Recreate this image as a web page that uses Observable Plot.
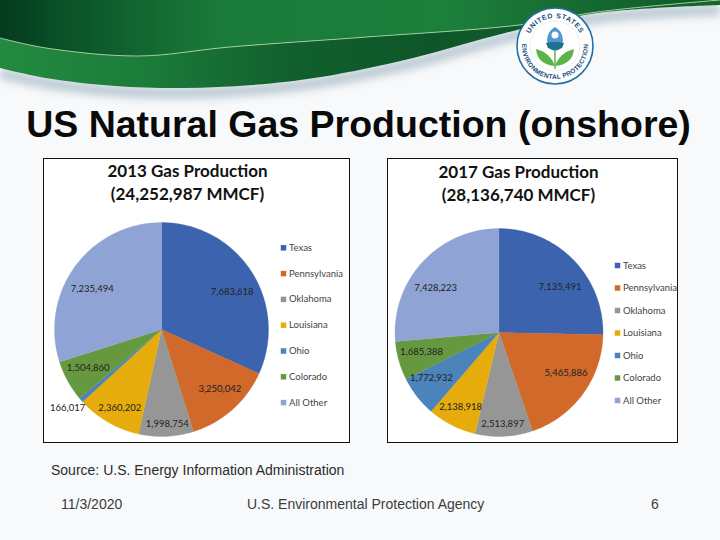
<!DOCTYPE html>
<html>
<head>
<meta charset="utf-8">
<script src="https://cdn.jsdelivr.net/npm/d3@7"></script>
<script src="https://cdn.jsdelivr.net/npm/@observablehq/plot@0.6"></script>
<style>
html,body{margin:0;padding:0;background:#f7f9fa;}
#slide{position:relative;width:720px;height:540px;overflow:hidden;background:#f7f9fa;font-family:"Liberation Sans",Arial,sans-serif;color:#222;}
#slide>*{position:absolute;}
#slide svg{display:block;}
.chart{border:1px solid #111;background:#fff;box-sizing:content-box;}
#title{left:0;width:717px;top:101px;text-align:center;font-size:37.5px;font-weight:bold;color:#0a0a0a;line-height:46px;white-space:nowrap;}
.note{font-size:14px;line-height:16px;color:#2c2c2c;white-space:nowrap;}
.foot{font-size:14px;line-height:16px;color:#3c3c3c;white-space:nowrap;}
</style>
</head>
<body>
<div id="slide">
  <div id="banner"></div>
  <div id="title">US Natural Gas Production (onshore)</div>
  <div id="c1" class="chart" style="left:43px;top:158px"></div>
  <div id="c2" class="chart" style="left:387px;top:158px"></div>
  <div class="note" style="left:51px;top:462px">Source: U.S. Energy Information Administration</div>
  <div class="foot" style="left:61px;top:496px">11/3/2020</div>
  <div class="foot" style="left:247px;top:496px">U.S. Environmental Protection Agency</div>
  <div class="foot" style="left:651px;top:496px">6</div>
</div>
<script>
// ---- data ----
const states = ["Texas","Pennsylvania","Oklahoma","Louisiana","Ohio","Colorado","All Other"];
const colors = ["#3c64ae","#d0692a","#969696","#e6ac0c","#4b83bb","#66993f","#8fa3d4"];
const values2013 = [7683618,3250042,1998754,2360202,166017,1504860,7235494];
const values2017 = [7135491,5465886,2513897,2138918,1772932,1685388,7428223];
const titles2013 = ["2013 Gas Production","(24,252,987 MMCF)"];
const titles2017 = ["2017 Gas Production","(28,136,740 MMCF)"];
// label placement: fraction of the radius, and degrees away from the slice's middle
const labelRadius2013 = [.749,.776,.880,.832,1.146,.773,.752];
const labelShift2013  = [4.7,-3.1,-1,-2,1.2,1.3,-5.6];
const labelRadius2017 = [.731,.750,.882,.806,.784,.769,.745];
const labelShift2017  = [7.7,-5.4,.4,.2,3.9,1.6,-7.3];

const FONT = "Lato, 'Open Sans', sans-serif";

function pieChart(o){
  const {values,titles,labelRadius,labelShift,w,h,cx,cy,r,legendX,legendY,legendStep,titleX,titleY} = o;
  const total = d3.sum(values);
  const xy = (deg,rad)=>[cx+rad*Math.sin(deg*Math.PI/180), cy-rad*Math.cos(deg*Math.PI/180)];
  const wedges=[], labels=[], legend=[];
  let start=0;
  values.forEach((v,i)=>{
    const sweep=v/total*360, end=start+sweep;
    const pts=[{state:states[i],p:[cx,cy]}];
    const n=Math.max(2,Math.ceil(sweep));
    d3.range(n+1).forEach(k=>pts.push({state:states[i],p:xy(start+sweep*k/n,r)}));
    pts.push({state:states[i],p:[cx,cy]});
    wedges.push(...pts);
    labels.push({text:d3.format(",")(v),p:xy((start+end)/2+labelShift[i],r*labelRadius[i])});
    legend.push({state:states[i],y:legendY+i*legendStep});
    start=end;
  });
  return Plot.plot({
    width:w,height:h,margin:0,
    style:{background:"#fff",fontFamily:FONT},
    x:{domain:[0,w],range:[0,w],axis:null},
    y:{domain:[0,h],range:[0,h],axis:null},
    color:{domain:states,range:colors},
    marks:[
      Plot.line(wedges,{x:d=>d.p[0],y:d=>d.p[1],z:"state",fill:"state",stroke:"state",strokeWidth:.3,curve:"linear"}),
      Plot.text(labels,{x:d=>d.p[0],y:d=>d.p[1],text:"text",fontSize:9.5,fill:"#222"}),
      Plot.dot(legend,{x:legendX,y:"y",fill:"state",symbol:"square",r:3.1}),
      Plot.text(legend,{x:legendX+5.5,y:"y",text:"state",textAnchor:"start",fontSize:9.5,fill:"#444"}),
      Plot.text(titles,{x:titleX,y:(d,i)=>titleY+i*23,text:d=>d,fontSize:17,fontWeight:"bold",fill:"#111"})
    ]
  });
}

document.getElementById("c1").appendChild(pieChart({
  values:values2013,titles:titles2013,labelRadius:labelRadius2013,labelShift:labelShift2013,
  w:305,h:283,cx:117,cy:170,r:107,legendX:239,legendY:88.3,legendStep:25.8,titleX:143,titleY:12
}));
document.getElementById("c2").appendChild(pieChart({
  values:values2017,titles:titles2017,labelRadius:labelRadius2017,labelShift:labelShift2017,
  w:289,h:283,cx:110.5,cy:173,r:104,legendX:229,legendY:106,legendStep:22.5,titleX:130,titleY:13
}));

// ---- slide decoration ----
const curve=d3.line().curve(d3.curveCatmullRom);
const lightLine=[[0,38],[46,48],[138,56],[230,47],[367,37],[519,25],[597,12],[720,0]];
const lowerEdge=[[0,68],[46,78],[115,86],[184,88],[252,85],[321,77],[413,58],[505,33],[597,13],[720,5]];
const lowerPath=curve(lowerEdge);
const upper="M0,0L720,0L"+curve(lightLine.slice().reverse()).slice(1)+"Z";
const lower="M0,30L"+lowerPath.slice(1)+"L720,0L"+curve(lightLine.slice().reverse()).slice(1)+"Z";
const shadow=curve(lowerEdge.map(([x,y])=>[x,y+5]));
const ring=28, cx=555, cy=46;
document.getElementById("banner").innerHTML=`
<svg width="720" height="110" viewBox="0 0 720 110" xmlns="http://www.w3.org/2000/svg">
 <defs>
  <linearGradient id="gTop" x1="0" x2="1" y1="0" y2="0">
    <stop offset="0" stop-color="#043a1e"/><stop offset=".1" stop-color="#0b5429"/><stop offset=".3" stop-color="#1a7a3a"/>
    <stop offset=".62" stop-color="#1d7f3c"/><stop offset=".85" stop-color="#14652f"/><stop offset="1" stop-color="#0d5a29"/>
  </linearGradient>
  <linearGradient id="gLow" x1="0" x2="1" y1="0" y2="0">
    <stop offset="0" stop-color="#238a40"/><stop offset=".2" stop-color="#1c7c3a"/><stop offset=".4" stop-color="#11602e"/>
    <stop offset=".6" stop-color="#0e5629"/><stop offset="1" stop-color="#14672f"/>
  </linearGradient>
  <filter id="soft" x="-5%" y="-40%" width="110%" height="190%"><feGaussianBlur stdDeviation="5"/></filter>
  <path id="arcT" d="M${cx-ring},${cy} A${ring},${ring} 0 0 1 ${cx+ring},${cy}"/>
  <path id="arcB" d="M${cx-ring-5},${cy} A${ring+5},${ring+5} 0 0 0 ${cx+ring+5},${cy}"/>
 </defs>
 <path d="${shadow}" fill="none" stroke="#7f99ab" stroke-width="9" opacity=".6" filter="url(#soft)"/>
 <path d="${lower}" fill="url(#gLow)"/>
 <path d="${upper}" fill="url(#gTop)"/>
 <path d="${curve(lightLine)}" fill="none" stroke="#a8d39c" stroke-width=".9"/>
 <circle cx="${cx}" cy="${cy}" r="38" fill="#fff" stroke="#1f6fa8" stroke-width="1.6"/>
 <circle cx="${cx}" cy="${cy}" r="25" fill="#fff" stroke="#cfe0ea" stroke-width=".5"/>
 <text font-family="Liberation Sans" font-weight="bold" font-size="7" fill="#1c4f7e" letter-spacing=".6" text-anchor="middle"><textPath href="#arcT" startOffset="50%">UNITED STATES</textPath></text>
 <text font-family="Liberation Sans" font-weight="bold" font-size="6.5" fill="#1c4f7e" letter-spacing=".3" text-anchor="middle"><textPath href="#arcB" startOffset="50%">ENVIRONMENTAL PROTECTION</textPath></text>
 <path d="M${cx},${cy-19} C${cx+11},${cy-13} ${cx+10},${cy+3} ${cx},${cy+5} C${cx-10},${cy+3} ${cx-11},${cy-13} ${cx},${cy-19}Z" fill="#4f9bd0"/>
 <circle cx="${cx}" cy="${cy-11}" r="3.5" fill="#fff"/>
 <path d="M${cx-9},${cy-3} Q${cx},${cy-5} ${cx+9},${cy-3} L${cx+7},${cy+2} Q${cx},${cy+6} ${cx-7},${cy+2}Z" fill="#1f6f8f"/>
 <path d="M${cx},${cy+20} C${cx-5},${cy+7} ${cx-13},${cy+5} ${cx-19},${cy+3} C${cx-18},${cy+14} ${cx-11},${cy+19} ${cx},${cy+20}Z" fill="#5cb34a"/>
 <path d="M${cx},${cy+20} C${cx+5},${cy+7} ${cx+13},${cy+5} ${cx+19},${cy+3} C${cx+18},${cy+14} ${cx+11},${cy+19} ${cx},${cy+20}Z" fill="#5cb34a"/>
 <path d="M${cx},${cy+5} V${cy+23}" stroke="#5cb34a" stroke-width="1.5"/>
</svg>`;
</script>
</body>
</html>
